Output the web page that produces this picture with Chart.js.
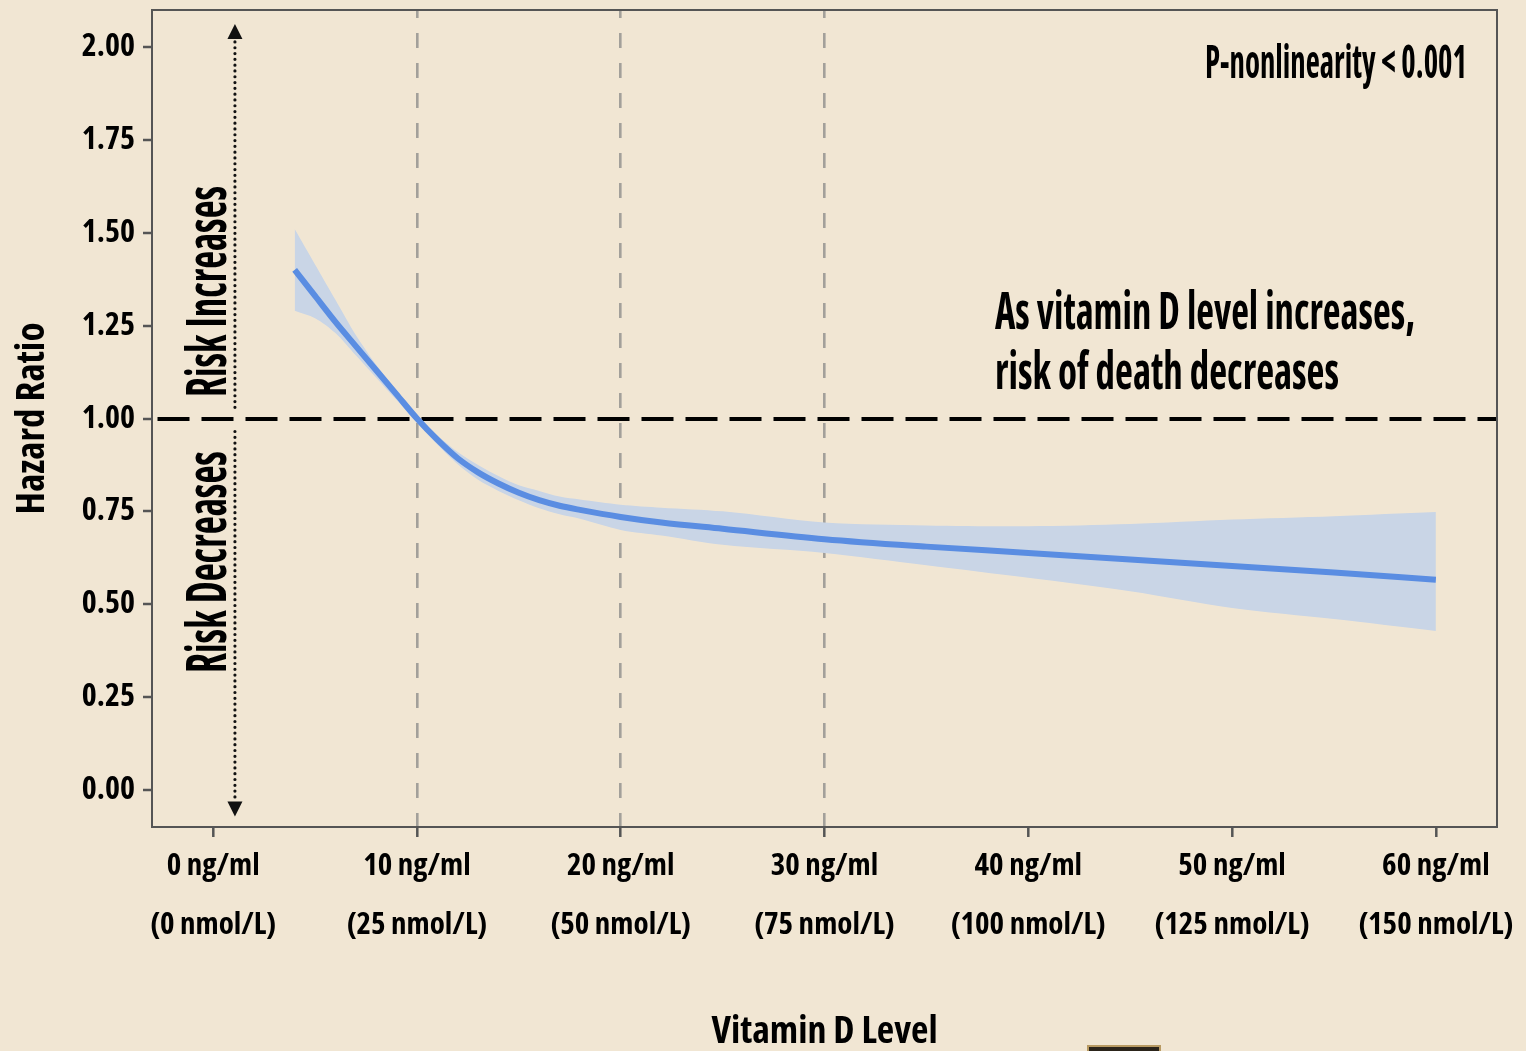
<!DOCTYPE html>
<html>
<head>
<meta charset="utf-8">
<script src="https://cdn.jsdelivr.net/npm/chart.js@4.4.1/dist/chart.umd.min.js"></script>
<style>
  html, body { margin: 0; padding: 0; background: #f1e6d3; }
  canvas { display: block; background: #f1e6d3; }
</style>
</head>
<body>
<canvas id="vitaminDChart" width="1526" height="1051"></canvas>
<script>
// vitamin D level (ng/ml) and hazard ratio with its confidence band
const vitD = [4, 5, 6, 7, 8, 9, 10, 11, 12, 13, 14, 15, 16, 17, 18, 20, 22, 25, 30, 35, 40, 45, 50, 55, 60];
const hazardRatio = [1.40, 1.33, 1.26, 1.195, 1.13, 1.065, 1.00, 0.943, 0.893, 0.855, 0.825, 0.80, 0.78, 0.765, 0.754, 0.735, 0.72, 0.703, 0.675, 0.655, 0.638, 0.62, 0.603, 0.585, 0.566];
const ciUpper = [1.51, 1.415, 1.32, 1.225, 1.145, 1.075, 1.01, 0.955, 0.91, 0.875, 0.845, 0.82, 0.805, 0.79, 0.782, 0.768, 0.76, 0.75, 0.72, 0.712, 0.71, 0.716, 0.728, 0.737, 0.748];
const ciLower = [1.29, 1.27, 1.23, 1.17, 1.11, 1.05, 0.99, 0.93, 0.877, 0.835, 0.805, 0.78, 0.758, 0.742, 0.73, 0.70, 0.685, 0.66, 0.638, 0.605, 0.571, 0.535, 0.49, 0.46, 0.428];

const xTicks = [0, 10, 20, 30, 40, 50, 60];
const xTickNg = ["0 ng/ml", "10 ng/ml", "20 ng/ml", "30 ng/ml", "40 ng/ml", "50 ng/ml", "60 ng/ml"];
const xTickNmol = ["(0 nmol/L)", "(25 nmol/L)", "(50 nmol/L)", "(75 nmol/L)", "(100 nmol/L)", "(125 nmol/L)", "(150 nmol/L)"];
const yTicks = [0, 0.25, 0.5, 0.75, 1.0, 1.25, 1.5, 1.75, 2.0];
const refLinesX = [10, 20, 30];

// Open Sans is a variable font here, so "condensed" gives a narrow face
const FONT = "'Open Sans', sans-serif";
const WEIGHT = "bold condensed";

// draws text squeezed to a given width (the original uses a very narrow face)
function narrowText(ctx, text, x, y, width, size) {
  ctx.font = `${WEIGHT} ${size}px ${FONT}`;
  const w = ctx.measureText(text).width;
  ctx.save();
  ctx.translate(x, y);
  ctx.scale(width / w, 1);
  ctx.textAlign = "left";
  ctx.textBaseline = "alphabetic";
  ctx.fillText(text, 0, 0);
  ctx.restore();
}

const annotations = {
  id: "annotations",
  afterDraw(chart) {
    const { ctx, chartArea: a, scales: { x, y } } = chart;
    ctx.save();

    // plot frame
    ctx.strokeStyle = "#555";
    ctx.lineWidth = 2;
    ctx.strokeRect(a.left, a.top, a.right - a.left, a.bottom - a.top);

    // dotted arrows
    const ax = x.getPixelForValue(1.07);
    ctx.strokeStyle = "#111";
    ctx.fillStyle = "#111";
    ctx.lineWidth = 3.2;
    ctx.lineCap = "round";
    ctx.setLineDash([0, 5.8]);
    ctx.beginPath();
    ctx.moveTo(ax, y.getPixelForValue(1.03));
    ctx.lineTo(ax, y.getPixelForValue(2.02));
    ctx.moveTo(ax, y.getPixelForValue(0.965));
    ctx.lineTo(ax, y.getPixelForValue(-0.03));
    ctx.stroke();
    ctx.setLineDash([]);
    const upTip = y.getPixelForValue(2.062);
    ctx.beginPath();
    ctx.moveTo(ax, upTip);
    ctx.lineTo(ax - 7.5, upTip + 15);
    ctx.lineTo(ax + 7.5, upTip + 15);
    ctx.closePath();
    ctx.fill();
    const downTip = y.getPixelForValue(-0.072);
    ctx.beginPath();
    ctx.moveTo(ax, downTip);
    ctx.lineTo(ax - 7.5, downTip - 15);
    ctx.lineTo(ax + 7.5, downTip - 15);
    ctx.closePath();
    ctx.fill();

    // rotated labels next to the arrows
    ctx.fillStyle = "#000";
    ctx.save();
    ctx.translate(226, 397);
    ctx.rotate(-Math.PI / 2);
    narrowText(ctx, "Risk Increases", 0, 0, 211, 55);
    ctx.restore();
    ctx.save();
    ctx.translate(226, 673);
    ctx.rotate(-Math.PI / 2);
    narrowText(ctx, "Risk Decreases", 0, 0, 222, 55);
    ctx.restore();

    // notes
    narrowText(ctx, "P-nonlinearity < 0.001", 1205, 78, 262, 46);
    narrowText(ctx, "As vitamin D level increases,", 995, 329, 420, 52);
    narrowText(ctx, "risk of death decreases", 995, 389, 344, 52);

    // logo corner peeking in at the bottom edge
    ctx.fillStyle = "#2b241a";
    ctx.fillRect(1088, 1046, 72, 8);
    ctx.strokeStyle = "#b89a62";
    ctx.lineWidth = 2;
    ctx.strokeRect(1088, 1046, 72, 8);

    ctx.restore();
  }
};

const ctx = document.getElementById("vitaminDChart").getContext("2d");
new Chart(ctx, {
  type: "line",
  data: {
    datasets: [
      {
        label: "Hazard ratio",
        data: vitD.map((v, i) => ({ x: v, y: hazardRatio[i] })),
        borderColor: "#5a8de2",
        borderWidth: 6,
        pointRadius: 0,
        cubicInterpolationMode: "monotone",
        fill: false,
      },
      {
        label: "Upper CI",
        data: vitD.map((v, i) => ({ x: v, y: ciUpper[i] })),
        borderWidth: 0,
        borderColor: "rgba(0,0,0,0)",
        backgroundColor: "#c9d5e6",
        pointRadius: 0,
        tension: 0.3,
        fill: "+1",
      },
      {
        label: "Lower CI",
        data: vitD.map((v, i) => ({ x: v, y: ciLower[i] })),
        borderWidth: 0,
        borderColor: "rgba(0,0,0,0)",
        pointRadius: 0,
        tension: 0.3,
        fill: false,
      },
    ],
  },
  options: {
    responsive: false,
    devicePixelRatio: 1,
    animation: false,
    layout: { padding: { top: 10, right: 29, left: 0, bottom: 0 } },
    plugins: {
      legend: { display: false },
      tooltip: { enabled: false },
    },
    scales: {
      x: {
        type: "linear",
        min: -3,
        max: 63,
        afterBuildTicks: (axis) => {
          axis.ticks = xTicks.map((v) => ({ value: v }));
        },
        afterFit: (axis) => {
          axis.height = 224;
          axis.paddingLeft = 0;
          axis.paddingRight = 0;
        },
        border: { display: false, dash: [15, 15], dashOffset: 7 },
        grid: {
          color: (c) => (c.tick && refLinesX.includes(c.tick.value) ? "#a3a09a" : "rgba(0,0,0,0)"),
          lineWidth: 2.6,
          drawTicks: true,
          tickLength: 10,
          tickColor: "#555",
          tickWidth: 2.5,
        },
        ticks: {
          autoSkip: false,
          maxRotation: 0,
          padding: 0,
          color: "#000",
          font: { family: FONT, size: 31, weight: WEIGHT, lineHeight: "59px" },
          callback: (value) => {
            const i = xTicks.indexOf(value);
            return i >= 0 ? [xTickNg[i], xTickNmol[i]] : "";
          },
        },
        title: {
          display: true,
          text: "Vitamin D Level",
          color: "#000",
          font: { family: FONT, size: 38, weight: WEIGHT, lineHeight: 1 },
          padding: { top: 0, bottom: 0 },
        },
      },
      y: {
        min: -0.1,
        max: 2.1,
        afterBuildTicks: (axis) => {
          axis.ticks = yTicks.map((v) => ({ value: v }));
        },
        afterFit: (axis) => {
          axis.width = 152;
          axis.paddingTop = 0;
          axis.paddingBottom = 0;
        },
        border: { display: false, dash: [32, 12], dashOffset: 38.5 },
        grid: {
          color: (c) => (c.tick && c.tick.value === 1 ? "#000" : "rgba(0,0,0,0)"),
          lineWidth: (c) => (c.tick && c.tick.value === 1 ? 4 : 0),
          drawTicks: true,
          tickLength: 9,
          tickColor: "#555",
          tickWidth: 2.5,
        },
        ticks: {
          padding: 8,
          color: "#000",
          font: { family: FONT, size: 32, weight: WEIGHT },
          callback: (value) => value.toFixed(2),
        },
        title: {
          display: true,
          text: "Hazard Ratio",
          color: "#000",
          font: { family: FONT, size: 39, weight: WEIGHT, lineHeight: 1 },
          padding: { top: 13, bottom: 0 },
        },
      },
    },
  },
  plugins: [annotations],
});
</script>
</body>
</html>
